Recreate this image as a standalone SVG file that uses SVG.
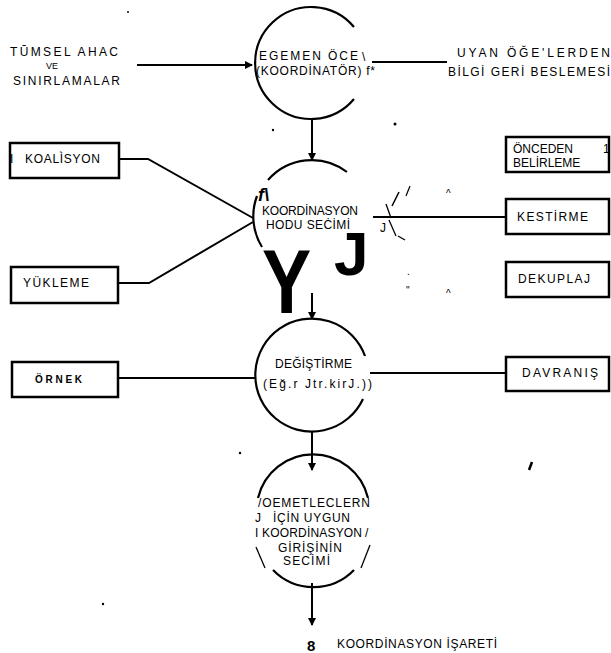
<svg xmlns="http://www.w3.org/2000/svg" width="611" height="653" viewBox="0 0 611 653">
<style>
.t{font-family:"Liberation Sans",Arial,sans-serif;font-size:12px;fill:#000}
.s{font-size:10px}
.b{font-weight:bold}
.ln{stroke:#000;stroke-width:2;fill:none}
.box{stroke:#000;stroke-width:2.5;fill:#fff}
.c{stroke:#000;stroke-width:2.2;fill:none}
</style>
<defs>
<marker id="ah" markerWidth="8" markerHeight="8" refX="7" refY="4" orient="auto" markerUnits="userSpaceOnUse">
<path d="M0,0 L8,4 L0,8 Z" fill="#000"/>
</marker>
</defs>
<rect width="611" height="653" fill="#fff"/>

<g id="connectors">
<line class="ln" x1="137" y1="65" x2="252" y2="65" marker-end="url(#ah)"/>
<line class="ln" x1="372" y1="62" x2="447" y2="62"/>
<line class="ln" x1="312" y1="118" x2="312" y2="160" marker-end="url(#ah)"/>
<polyline class="ln" points="119,159 148,159 253,218"/>
<polyline class="ln" points="118,283 149,283 253,222"/>
<line class="ln" x1="373" y1="217" x2="506" y2="217"/>
<line class="ln" x1="312" y1="293" x2="312" y2="319" marker-end="url(#ah)"/>
<line class="ln" x1="118" y1="378" x2="256" y2="378"/>
<line class="ln" x1="370" y1="373" x2="506" y2="373"/>
<line class="ln" x1="312" y1="432" x2="312" y2="470" marker-end="url(#ah)"/>
<line class="ln" x1="312" y1="583" x2="312" y2="625" marker-end="url(#ah)"/>
</g>

<g id="input-text">
<text class="t" x="10" y="56" textLength="108" lengthAdjust="spacing">TŪMSEL   AHAC</text>
<text class="t" x="46" y="69" style="font-size:9px">VE</text>
<text class="t" x="13" y="85" textLength="107" lengthAdjust="spacing">SINIRLAMALAR</text>
</g>

<g id="feedback-text">
<text class="t" x="457" y="57" textLength="153" lengthAdjust="spacing">UYAN  ÖĞE'LERDEN</text>
<text class="t" x="448" y="76" textLength="162" lengthAdjust="spacing">BİLGİ  GERİ  BESLEMESİ</text>
</g>

<g id="node-egemen">
<path class="c" d="M354,27 A56,56 0 1 0 354,99"/>
<text class="t" x="259" y="60" textLength="99" lengthAdjust="spacing">EGEMEN    ÖCE</text>
<text class="t" x="362" y="61">\</text>
<text class="t" x="256" y="75" textLength="119" lengthAdjust="spacing">(KOORDİNATÖR) f*</text>
</g>

<g id="node-secim">
<path class="c" d="M262,247 A58,58 0 0 1 257,196"/>
<path class="c" d="M268,180 A58,58 0 0 1 347,172"/>
<text class="t b" x="258" y="201" style="font-size:18px;font-style:italic">f\</text>
<text class="t" x="262" y="215" textLength="96" lengthAdjust="spacing">KOORDİNASYON</text>
<text class="t" x="266" y="229" textLength="84" lengthAdjust="spacing">HODU   SEĊİMİ</text>
<text class="t b" transform="translate(262,313) scale(0.82,1)" style="font-size:90px">Y</text>
<text class="t b" x="334" y="275" style="font-size:62px">J</text>
<text class="t" x="380" y="232">J</text>
<line class="ln" x1="386" y1="204" x2="391" y2="218" style="stroke-width:1.3"/>
<line class="ln" x1="392" y1="206" x2="399" y2="192" style="stroke-width:1.6"/>
<line class="ln" x1="406" y1="196" x2="410" y2="186" style="stroke-width:1.2"/>
<line class="ln" x1="389" y1="220" x2="396" y2="236" style="stroke-width:1.3"/>
<line class="ln" x1="398" y1="236" x2="405" y2="240" style="stroke-width:1.3"/>
<text class="t s" x="446" y="197">^</text>
<text class="t s" x="446" y="297">^</text>
<text class="t s" x="407" y="275">.</text>
<text class="t s" x="406" y="294">"</text>
</g>

<g id="node-koalisyon">
<rect class="box" x="10" y="143" width="109" height="35"/>
<text class="t" x="10" y="163">I</text>
<text class="t" x="25" y="163" textLength="75" lengthAdjust="spacing">KOALÌSYON</text>
</g>

<g id="node-yukleme">
<rect class="box" x="11" y="267" width="107" height="36"/>
<text class="t" x="23" y="287" textLength="66" lengthAdjust="spacing">YÜKLEME</text>
</g>

<g id="node-onceden">
<rect class="box" x="506" y="137" width="103" height="35"/>
<text class="t" x="513" y="153">ÖNCEDEN</text>
<text class="t" x="513" y="167">BELİRLEME</text>
<text class="t" x="603" y="153">1</text>
</g>

<g id="node-kestirme">
<rect class="box" x="506" y="199" width="103" height="35"/>
<text class="t" x="517" y="221" textLength="71" lengthAdjust="spacing">KESTİRME</text>
</g>

<g id="node-dekuplaj">
<rect class="box" x="506" y="262" width="103" height="35"/>
<text class="t" x="518" y="283" textLength="72" lengthAdjust="spacing">DEKUPLAJ</text>
</g>

<g id="node-degistirme">
<path class="c" d="M365,356 A56.5,56.5 0 1 0 363,399"/>
<text class="t" x="275" y="368" textLength="77" lengthAdjust="spacing">DEĞİŞTİRME</text>
<text class="t" x="263" y="388" textLength="109" lengthAdjust="spacing">(Eğ.r  Jtr.kirJ.))</text>
</g>

<g id="node-ornek">
<rect class="box" x="12" y="362" width="106" height="35"/>
<text class="t b s" x="35" y="383" textLength="47" lengthAdjust="spacing">ÖRNEK</text>
</g>

<g id="node-davranis">
<rect class="box" x="506" y="357" width="103" height="34"/>
<text class="t" x="522" y="377" textLength="76" lengthAdjust="spacing">DAVRANIŞ</text>
</g>

<g id="node-girdi">
<path class="c" d="M258,498 A56.5,56.5 0 0 1 368,498"/>
<path class="c" d="M273,570 A56.5,56.5 0 0 0 354,570"/>
<text class="t" x="258" y="507" textLength="112" lengthAdjust="spacing">/OEMETLECLERN</text>
<text class="t" x="255" y="522">J</text>
<text class="t" x="273" y="522" textLength="77" lengthAdjust="spacing">İÇİN UYGUN</text>
<text class="t" x="255" y="537" textLength="107" lengthAdjust="spacing">I KOORDİNASYON</text>
<text class="t" x="365" y="537">/</text>
<text class="t" x="278" y="552" textLength="64" lengthAdjust="spacing">GİRİŞİNİN</text>
<text class="t" x="283" y="565" textLength="47" lengthAdjust="spacing">SECİMİ</text>
<line class="ln" x1="256" y1="547" x2="265" y2="568" style="stroke-width:1.3"/>
<line class="ln" x1="370" y1="545" x2="361" y2="568" style="stroke-width:1.3"/>
</g>

<g id="output">
<text class="t b" x="307" y="651" style="font-size:15px">8</text>
<text class="t" x="337" y="648" textLength="160" lengthAdjust="spacing">KOORDİNASYON   İŞARETİ</text>
</g>

<g id="specks">
<circle cx="273" cy="130" r="1.2"/>
<circle cx="395" cy="124" r="1.5"/>
<circle cx="240" cy="453" r="1.2"/>
<circle cx="103" cy="604" r="1.2"/>
<path d="M532,462 L529,470" stroke="#000" stroke-width="2.5"/>
<circle cx="128" cy="12" r="1"/>
</g>
</svg>
